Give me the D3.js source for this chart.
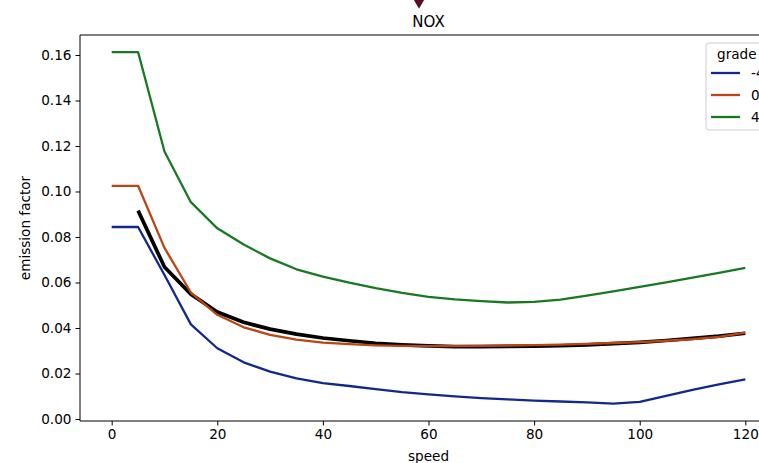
<!DOCTYPE html>
<html>
<head>
<meta charset="utf-8">
<script src="https://cdn.jsdelivr.net/npm/d3@7"></script>
<style>
  html, body { margin: 0; padding: 0; background: #fff; }
  svg { display: block; overflow: hidden; }
  text { font-family: "DejaVu Sans", sans-serif; fill: #000; }
</style>
</head>
<body>
<svg id="chart" width="759" height="463"></svg>
<script>
// Speed bins (km/h)
const speeds = [0, 5, 10, 15, 20, 25, 30, 35, 40, 45, 50, 55, 60, 65, 70, 75, 80, 85, 90, 95, 100, 105, 110, 115, 120];

// NOX emission factor per road grade
const gradeLabels = ["-4", "0", "4"];
const gradeMinus4 = [0.0844, 0.0844, 0.0633, 0.0416, 0.0311, 0.0249, 0.0208, 0.0179, 0.0158, 0.0145, 0.0131, 0.0118, 0.0108, 0.0099, 0.0092, 0.0086, 0.0081, 0.0077, 0.0073, 0.0068, 0.0075, 0.0102, 0.0128, 0.0152, 0.0174];
const grade0 = [0.1025, 0.1025, 0.0752, 0.0556, 0.0458, 0.0403, 0.0370, 0.0349, 0.0336, 0.0329, 0.0324, 0.0321, 0.0320, 0.0320, 0.0321, 0.0323, 0.0325, 0.0327, 0.0330, 0.0334, 0.0338, 0.0344, 0.0351, 0.0361, 0.0380];
const grade4 = [0.1613, 0.1613, 0.1176, 0.0953, 0.0838, 0.0767, 0.0706, 0.0658, 0.0626, 0.0599, 0.0575, 0.0554, 0.0537, 0.0526, 0.0518, 0.0512, 0.0515, 0.0525, 0.0542, 0.0561, 0.0581, 0.0601, 0.0621, 0.0642, 0.0664];
// Combined reference curve (no value at speed 0)
const combined = [null, 0.0916, 0.0668, 0.0549, 0.0470, 0.0425, 0.0395, 0.0373, 0.0356, 0.0344, 0.0333, 0.0326, 0.0321, 0.0318, 0.0318, 0.0319, 0.0320, 0.0322, 0.0326, 0.0331, 0.0337, 0.0345, 0.0354, 0.0364, 0.0377];

const xTicks = [0, 20, 40, 60, 80, 100, 120];
const yTicks = [0.00, 0.02, 0.04, 0.06, 0.08, 0.10, 0.12, 0.14, 0.16];
const colors = ["#10298a", "#bd4413", "#177a22"];

const svg = d3.select("#chart");
const pLeft = 80, pTop = 35, pRight = 777, pBottom = 421;
const fs = "13.6px";

const x = d3.scaleLinear().domain([-6, 126]).range([pLeft, pRight]);
const y = d3.scaleLinear().domain([-0.00088, 0.16879]).range([pBottom, pTop]);

// marker above the title
svg.append("path")
  .attr("d", d3.symbol().type(d3.symbolDiamond).size(110)())
  .attr("transform", "translate(419,-1)")
  .attr("fill", "#5a0c22");

// title
svg.append("text")
  .attr("x", (pLeft + pRight) / 2).attr("y", 27)
  .attr("text-anchor", "middle")
  .style("font-size", "15px")
  .text("NOX");

// lines
const line = d3.line()
  .defined(d => d.v != null)
  .x(d => x(d.s))
  .y(d => y(d.v));

const plot = svg.append("g");

plot.append("path")
  .datum(speeds.map((s, i) => ({ s, v: combined[i] })))
  .attr("d", line)
  .attr("fill", "none")
  .attr("stroke", "#000")
  .attr("stroke-width", 3.7)
  .attr("stroke-linejoin", "round");

[gradeMinus4, grade0, grade4].forEach((vals, k) => {
  plot.append("path")
    .datum(speeds.map((s, i) => ({ s, v: vals[i] })))
    .attr("d", line)
    .attr("fill", "none")
    .attr("stroke", colors[k])
    .attr("stroke-width", 2.3)
    .attr("stroke-linejoin", "round");
});

// axes
const xAxis = svg.append("g")
  .attr("transform", `translate(0,${pBottom})`)
  .call(d3.axisBottom(x).tickValues(xTicks).tickSizeOuter(0).tickSize(4.5).tickPadding(4));
const yAxis = svg.append("g")
  .attr("transform", `translate(${pLeft},0)`)
  .call(d3.axisLeft(y).tickValues(yTicks).tickFormat(d3.format(".2f")).tickSizeOuter(0).tickSize(4.5).tickPadding(4));

[xAxis, yAxis].forEach(g => {
  g.select(".domain").remove();
  g.selectAll(".tick line").attr("stroke", "#000").attr("stroke-width", 1);
  g.selectAll(".tick text").style("font-size", fs).style("font-family", "DejaVu Sans, sans-serif").attr("fill", "#000");
});

// spines
const spines = [
  [pLeft, pTop, pLeft, pBottom],
  [pLeft, pBottom, pRight, pBottom],
  [pLeft, pTop, pRight, pTop],
  [pRight, pTop, pRight, pBottom]
];
spines.forEach(([x1, y1, x2, y2]) => {
  svg.append("line").attr("x1", x1).attr("y1", y1).attr("x2", x2).attr("y2", y2)
    .attr("stroke", "#000").attr("stroke-width", 1);
});

// axis labels
svg.append("text")
  .attr("x", (pLeft + pRight) / 2).attr("y", 461)
  .attr("text-anchor", "middle")
  .style("font-size", fs)
  .text("speed");
svg.append("text")
  .attr("transform", `translate(30,${(pTop + pBottom) / 2}) rotate(-90)`)
  .attr("text-anchor", "middle")
  .style("font-size", fs)
  .text("emission factor");

// legend
const lg = svg.append("g").attr("transform", "translate(706,43)");
lg.append("rect")
  .attr("x", 0).attr("y", 0).attr("width", 90).attr("height", 87)
  .attr("rx", 3)
  .attr("fill", "#fff").attr("fill-opacity", 0.8)
  .attr("stroke", "#ccc").attr("stroke-width", 1);
lg.append("text")
  .attr("x", 11).attr("y", 16)
  .style("font-size", fs)
  .text("grade");
gradeLabels.forEach((g, i) => {
  const yy = 30 + i * 22;
  lg.append("line")
    .attr("x1", 5).attr("x2", 34).attr("y1", yy).attr("y2", yy)
    .attr("stroke", colors[i]).attr("stroke-width", 2.3);
  lg.append("text")
    .attr("x", 45).attr("y", yy + 4.5)
    .style("font-size", fs)
    .text(g);
});
</script>
</body>
</html>
